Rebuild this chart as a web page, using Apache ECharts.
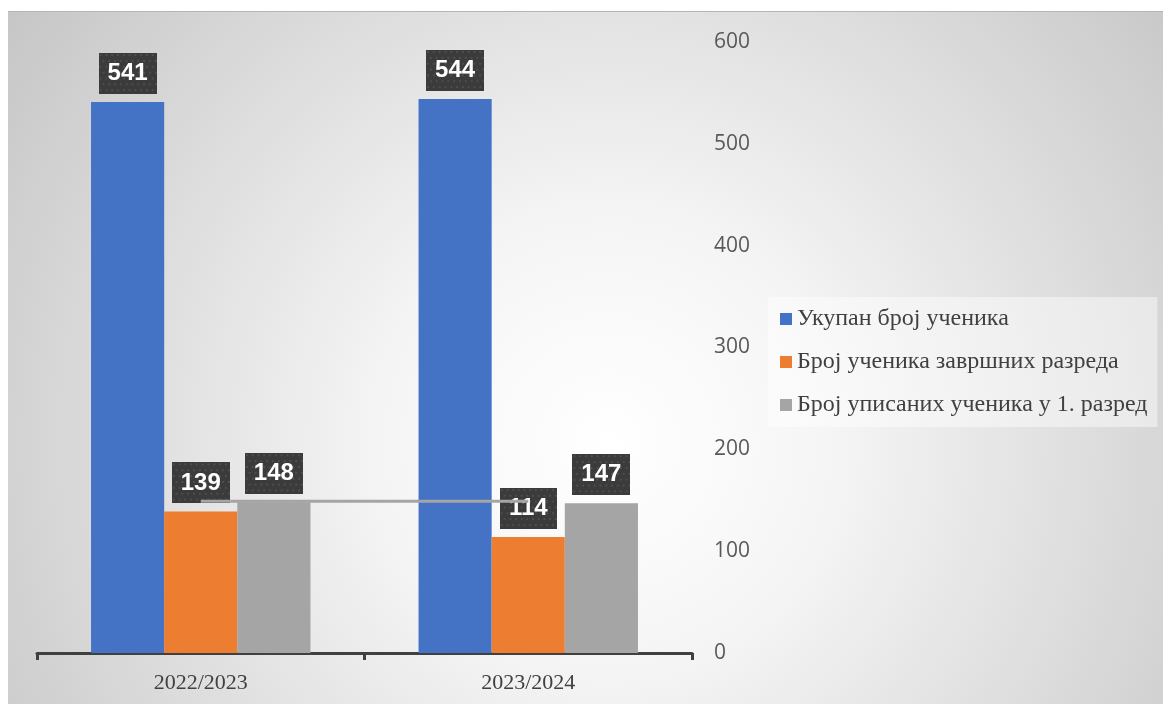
<!DOCTYPE html>
<html>
<head>
<meta charset="utf-8">
<script src="https://cdn.jsdelivr.net/npm/echarts@6/dist/echarts.min.js"></script>
<style>
  body { margin: 0; background: #fff; }
  #bg {
    position: absolute; left: 8px; top: 11px; width: 1155px; height: 693px;
    border-top: 1px solid #b4b4b4;
    background: radial-gradient(circle farthest-corner at 52% 62%, #ffffff 0%, #f5f5f5 30%, #c6c6c6 100%);
  }
  #chart { position: absolute; left: 0; top: 0; width: 1163px; height: 704px; }
</style>
</head>
<body>
<div id="bg"></div>
<div id="chart"></div>
<script>
// Chart data
const categories = ['2022/2023', '2023/2024'];
const seriesNames = ['Укупан број ученика', 'Број ученика завршних разреда', 'Број уписаних ученика у 1. разред'];
const totalStudents = [541, 544];
const finalGradeStudents = [139, 114];
const firstGradeStudents = [148, 147];
const connectorLine = [149, 149];
const yTicks = { min: 0, max: 600, interval: 100 };

// Dotted dark texture for the data labels
function makeLabelTexture() {
    const c = document.createElement('canvas');
    c.width = 60; c.height = 42;
    const ctx = c.getContext('2d');
    ctx.fillStyle = '#3b3b3b';
    ctx.fillRect(0, 0, c.width, c.height);
    ctx.fillStyle = '#4e4e4e';
    for (let y = 1; y < c.height; y += 6) {
        for (let x = (y % 12 === 1 ? 1 : 4); x < c.width; x += 6) {
            ctx.fillRect(x, y, 2, 2);
        }
    }
    return c;
}
const texture = makeLabelTexture();

const chart = echarts.init(document.getElementById('chart'));

const dataLabel = {
    show: true,
    position: 'top',
    distance: 8,
    color: '#fff',
    fontFamily: 'Liberation Sans',
    fontWeight: 'bold',
    fontSize: 24,
    lineHeight: 23,
    padding: [9, 9, 9, 9],
    backgroundColor: { image: texture },
    shadowColor: 'rgba(0,0,0,0.35)',
    shadowBlur: 6,
    shadowOffsetX: 3,
    shadowOffsetY: 3
};

function barSeries(name, data, color) {
    return {
        name: name,
        type: 'bar',
        data: data,
        barGap: 0,
        barCategoryGap: '33%',
        itemStyle: { color: color },
        label: dataLabel
    };
}

const option = {
    animation: false,
    backgroundColor: 'transparent',
    grid: { left: 37, right: 471, top: 42, bottom: 51 },
    legend: {
        data: seriesNames,
        orient: 'vertical',
        left: 768,
        top: 297,
        padding: [10, 10, 10, 12],
        itemWidth: 12,
        itemHeight: 12,
        itemGap: 19,
        icon: 'rect',
        backgroundColor: 'rgba(255,255,255,0.45)',
        textStyle: { fontFamily: 'Liberation Serif', fontSize: 24, color: '#404040' }
    },
    xAxis: {
        type: 'category',
        data: categories,
        axisLine: { lineStyle: { color: '#404040', width: 3 } },
        axisTick: { show: true, length: 7, lineStyle: { color: '#404040', width: 3 } },
        axisLabel: { margin: 19, fontFamily: 'Liberation Serif', fontSize: 22, color: '#404040' }
    },
    yAxis: {
        type: 'value',
        position: 'right',
        min: yTicks.min,
        max: yTicks.max,
        interval: yTicks.interval,
        axisLine: { show: false },
        axisTick: { show: false },
        splitLine: { show: false },
        axisLabel: { margin: 22, fontFamily: 'Open Sans', fontSize: 21, color: '#595959' }
    },
    series: [
        barSeries(seriesNames[0], totalStudents, '#4472C4'),
        barSeries(seriesNames[1], finalGradeStudents, '#ED7D31'),
        barSeries(seriesNames[2], firstGradeStudents, '#A5A5A5'),
        {
            name: 'connector',
            type: 'line',
            data: connectorLine,
            zlevel: 1,
            z: 10,
            symbol: 'none',
            silent: true,
            lineStyle: { color: '#a5a5a5', width: 3 }
        }
    ]
};

chart.setOption(option);
</script>
</body>
</html>
